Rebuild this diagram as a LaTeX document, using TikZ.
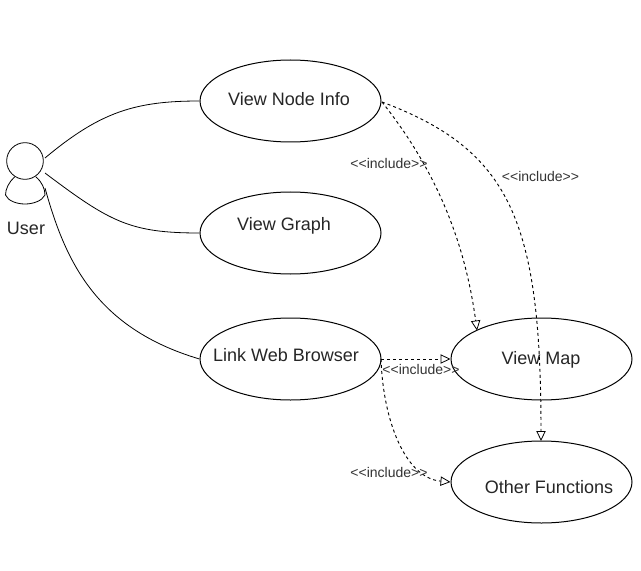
\documentclass[tikz,border=0pt]{standalone}
\usepackage{fontspec}
\setmainfont{Liberation Sans}
\usetikzlibrary{arrows.meta,shapes.geometric}
\tikzset{
  usecase/.style={draw=black,ellipse,minimum width=135.75pt,minimum height=61.5pt,inner sep=0pt,line width=0.75pt},
  lab/.style={font=\fontsize{13.5}{16}\selectfont,text=black!85,inner sep=0pt},
  inc/.style={font=\fontsize{10.5}{12}\selectfont,text=black!80,inner sep=0pt},
  assoc/.style={draw=black,line width=0.6pt},
  incl/.style={draw=black,line width=0.7pt,dash pattern=on 2.25pt off 2.25pt,-{Triangle[open,fill=white,length=7.5pt,width=7pt,line width=0.6pt]}},
  actorpart/.style={draw=black,line width=0.6pt}
}
\begin{document}
\begin{tikzpicture}[x=0.75pt,y=-0.75pt]
\useasboundingbox (0,0) rectangle (641,570);
\fill[white] (0,0) rectangle (641,570);
\node[usecase] (info) at (290.5,101) {};
\node[usecase] (graph) at (290.5,233) {};
\node[usecase] (web) at (290.5,359) {};
\node[usecase] (map) at (541.5,359) {};
\node[usecase] (other) at (541.5,482) {};
\node[lab] at (289,99.5) {View Node Info};
\node[lab] at (284,225.5) {View Graph};
\node[lab] at (286,355.5) {Link Web Browser};
\node[lab] at (541,359.5) {View Map};
\node[lab] at (549,487.5) {Other Functions};
\node[lab] (userlabel) at (26,228.5) {User};
% actor
\draw[actorpart] (14.5,177) .. controls (9,182) and (5.5,189) .. (5.5,195)
  .. controls (8,201) and (17,204) .. (25,204)
  .. controls (33,204) and (42,201) .. (45,195)
  .. controls (45,189) and (42,182) .. (36,177);
\node[actorpart,draw,circle,minimum size=27.5pt,inner sep=0pt,fill=white] (head) at (25,161) {};
\coordinate (u1) at (45,158);
\coordinate (u2) at (45,173);
\coordinate (u3) at (45,188);
\draw[assoc] (u1) .. controls (100,112) and (135,101) .. (info.west);
\draw[assoc] (u2) .. controls (110,222) and (130,233) .. (graph.west);
\draw[assoc] (u3) .. controls (65,260) and (95,328) .. (web.west);
% includes
\coordinate (s1) at (382,102);
\coordinate (s2) at (381,359);
\draw[incl] (s1) .. controls (432,165) and (464,235) .. (477,330.5);
\draw[incl] (s1) .. controls (510,150) and (541,220) .. (541,441);
\draw[incl] (s2) -- (map.west);
\draw[incl] (s2) .. controls (383,420) and (405,478) .. (other.west);
\node[inc] at (389,163) {<{}<include>{}>};
\node[inc] at (540.5,176) {<{}<include>{}>};
\node[inc] at (421,369) {<{}<include>{}>};
\node[inc] at (389,472) {<{}<include>{}>};
\end{tikzpicture}
\end{document}
